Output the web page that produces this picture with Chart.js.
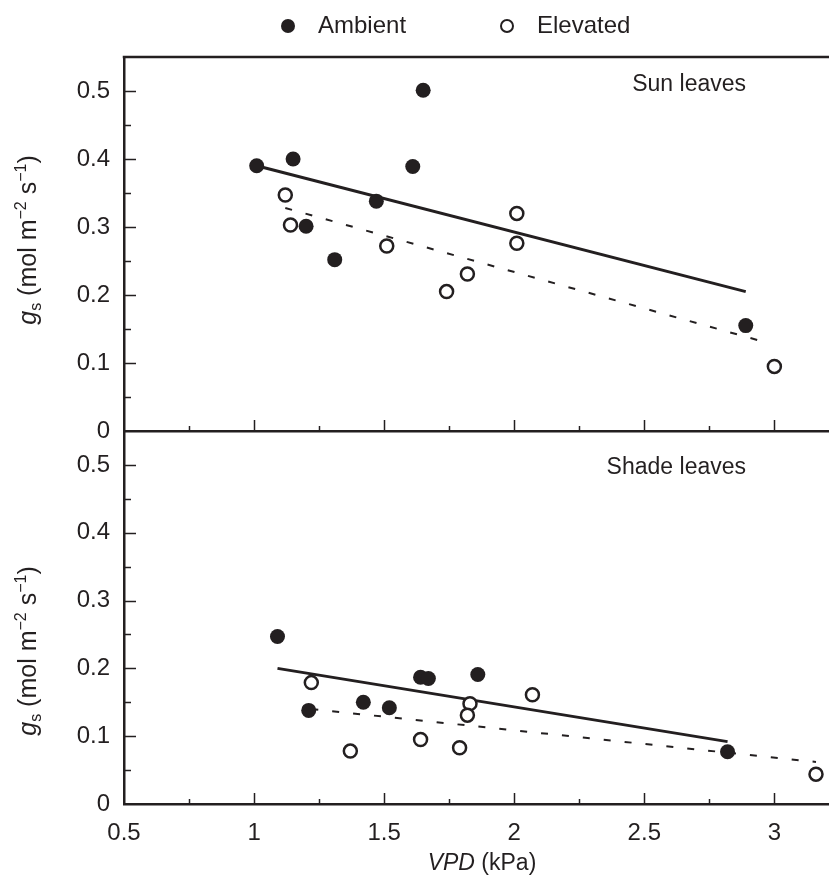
<!DOCTYPE html>
<html><head><meta charset="utf-8">
<script src="https://cdn.jsdelivr.net/npm/chart.js@4.4.0/dist/chart.umd.min.js"></script>
<style>
html,body{margin:0;padding:0;background:#fff;}
#wrap{position:relative;width:829px;height:888px;overflow:hidden;}
canvas{position:absolute;left:0;top:0;}
</style></head><body>
<div id="wrap"><canvas id="c1" width="829" height="888"></canvas><canvas id="c2" width="829" height="888"></canvas></div>
<script>
// ---------- data ----------
const seriesNames = ['Ambient', 'Elevated'];
const panelTitles = ['Sun leaves', 'Shade leaves'];
const xTickValues = [0.5, 1, 1.5, 2, 2.5, 3];
const xTickLabels = ['0.5', '1', '1.5', '2', '2.5', '3'];
const xMinorValues = [0.75, 1.25, 1.75, 2.25, 2.75];
const yTickValues = [0, 0.1, 0.2, 0.3, 0.4, 0.5];
const yTickLabels = ['0', '0.1', '0.2', '0.3', '0.4', '0.5'];
const yMinorValues = [0.05, 0.15, 0.25, 0.35, 0.45];

const sunAmbientVPD = [1.01, 1.15, 1.65, 1.61, 1.47, 1.20, 1.31, 2.89];
const sunAmbientGs  = [0.390, 0.400, 0.501, 0.389, 0.338, 0.301, 0.252, 0.155];
const sunElevatedVPD = [1.12, 1.14, 1.51, 1.82, 1.74, 2.01, 2.01, 3.00];
const sunElevatedGs  = [0.347, 0.303, 0.272, 0.231, 0.205, 0.320, 0.276, 0.095];
const sunAmbientFitVPD = [1.01, 2.89];
const sunAmbientFitGs  = [0.390, 0.205];
const sunElevatedFitVPD = [1.12, 2.97];
const sunElevatedFitGs  = [0.328, 0.130];

const shadeAmbientVPD = [1.09, 1.21, 1.42, 1.52, 1.64, 1.67, 1.86, 2.82];
const shadeAmbientGs  = [0.247, 0.138, 0.150, 0.142, 0.187, 0.185, 0.191, 0.077];
const shadeElevatedVPD = [1.22, 1.37, 1.64, 1.79, 1.83, 1.82, 2.07, 3.16];
const shadeElevatedGs  = [0.179, 0.078, 0.095, 0.083, 0.148, 0.131, 0.161, 0.044];
const shadeAmbientFitVPD = [1.09, 2.82];
const shadeAmbientFitGs  = [0.200, 0.092];
const shadeElevatedFitVPD = [1.22, 3.16];
const shadeElevatedFitGs  = [0.140, 0.062];

// ---------- style ----------
const INK = '#231f20';
const FONT = '"Liberation Sans", Arial, Helvetica, sans-serif';
const pts = (xs, ys) => xs.map((x, i) => ({x: x, y: ys[i]}));

function datasets(aX, aY, eX, eY, afX, afY, efX, efY) {
  return [
    {label: seriesNames[0], data: pts(aX, aY), pointRadius: 7.5, pointBackgroundColor: INK, pointBorderWidth: 0, pointBorderColor: INK, backgroundColor: INK},
    {label: seriesNames[1], data: pts(eX, eY), pointRadius: 6.5, pointBackgroundColor: '#fff', pointBorderWidth: 2.5, pointBorderColor: INK, backgroundColor: '#fff'},
    {label: seriesNames[0] + ' fit', data: pts(afX, afY), showLine: true, borderColor: INK, borderWidth: 3, pointRadius: 0},
    {label: seriesNames[1] + ' fit', data: pts(efX, efY), showLine: true, borderColor: INK, borderWidth: 2, borderDash: [7, 14], pointRadius: 0}
  ];
}

function line(ctx, x1, y1, x2, y2) { ctx.beginPath(); ctx.moveTo(x1, y1); ctx.lineTo(x2, y2); ctx.stroke(); }

function drawRich(ctx, parts, cx, baseY) {
  let total = 0;
  parts.forEach(p => { ctx.font = p.f; total += ctx.measureText(p.t).width; });
  let x = cx - total / 2;
  parts.forEach(p => { ctx.font = p.f; ctx.fillText(p.t, x, baseY + (p.dy || 0)); x += ctx.measureText(p.t).width; });
}

function decor(panel, titleCenterY) {
  return {
    id: 'decor' + panel,
    afterDraw(chart) {
      const {ctx, chartArea: a, scales: {x, y}} = chart;
      ctx.save();
      ctx.strokeStyle = INK; ctx.fillStyle = INK; ctx.lineWidth = 1.5;
      // inward x ticks
      xTickValues.concat(xMinorValues).forEach(v => {
        const px = Math.round(x.getPixelForValue(v)) + 0.5;
        const len = xTickValues.includes(v) ? 11 : 5;
        if (v > x.min) line(ctx, px, a.bottom, px, a.bottom - len);
      });
      // inward y ticks
      yTickValues.concat(yMinorValues).forEach(v => {
        const py = Math.round(y.getPixelForValue(v)) + 0.5;
        const len = yTickValues.includes(v) ? 12 : 7;
        if (v > 0) line(ctx, a.left, py, a.left + len, py);
      });
      if (panel === 0) {
        ctx.lineWidth = 2.5;
        line(ctx, a.left - 1.25, a.top, a.right, a.top);
        // legend
        ctx.font = '24px ' + FONT;
        ctx.textBaseline = 'middle';
        ctx.textAlign = 'left';
        ctx.beginPath(); ctx.arc(288, 26, 7, 0, Math.PI * 2); ctx.fill();
        ctx.fillText(seriesNames[0], 318, 26);
        ctx.lineWidth = 2;
        ctx.beginPath(); ctx.arc(507, 26, 6, 0, Math.PI * 2); ctx.stroke();
        ctx.fillText(seriesNames[1], 537, 26);
      } else {
        // x axis title
        ctx.textBaseline = 'alphabetic';
        ctx.textAlign = 'left';
        drawRich(ctx, [{t: 'VPD', f: 'italic 23px ' + FONT}, {t: ' (kPa)', f: '23px ' + FONT}], 482, 870);
      }
      // panel label
      ctx.textBaseline = 'alphabetic';
      ctx.textAlign = 'right';
      ctx.font = '23px ' + FONT;
      ctx.fillText(panelTitles[panel], 746, panel === 0 ? 91 : 474);
      // y title
      ctx.save();
      ctx.translate(27, titleCenterY);
      ctx.rotate(-Math.PI / 2);
      ctx.textAlign = 'left';
      drawRich(ctx, [
        {t: 'g', f: 'italic 25px ' + FONT},
        {t: 's', f: '16px ' + FONT, dy: 5},
        {t: ' (mol m', f: '25px ' + FONT},
        {t: '\u22122', f: '16px ' + FONT, dy: -10},
        {t: ' s', f: '25px ' + FONT},
        {t: '\u22121', f: '16px ' + FONT, dy: -10},
        {t: ')', f: '25px ' + FONT}
      ], 0, 9);
      ctx.restore();
      ctx.restore();
    }
  };
}

function makeChart(id, panel, ds, padTop, padBottom, xHeight, showXLabels, titleCenterY) {
  return new Chart(document.getElementById(id), {
    type: 'scatter',
    data: {datasets: ds},
    options: {
      responsive: false,
      animation: false,
      events: [],
      layout: {autoPadding: false, padding: {top: padTop, bottom: padBottom, left: 0, right: 0}},
      plugins: {legend: {display: false}, tooltip: {enabled: false}},
      scales: {
        x: {
          type: 'linear', min: 0.5, max: 3.21,
          afterBuildTicks: s => { s.ticks = xTickValues.map(v => ({value: v})); },
          afterFit: s => { s.height = xHeight; s.paddingLeft = 0; s.paddingRight = 0; },
          grid: {display: false, drawTicks: false},
          border: {display: true, color: INK, width: 2.5},
          ticks: {
            display: showXLabels, padding: 15, color: INK, maxRotation: 0, autoSkip: false,
            font: {family: FONT, size: 24},
            callback: v => xTickLabels[xTickValues.indexOf(v)]
          }
        },
        y: {
          type: 'linear', min: 0, max: 0.55,
          afterBuildTicks: s => { s.ticks = yTickValues.map(v => ({value: v})); },
          afterFit: s => { s.width = 124; s.paddingTop = 0; s.paddingBottom = 0; },
          grid: {display: false, drawTicks: false},
          border: {display: true, color: INK, width: 2.5},
          ticks: {
            padding: 14, color: INK, font: {family: FONT, size: 24},
            callback: v => yTickLabels[yTickValues.indexOf(v)]
          }
        }
      }
    },
    plugins: [decor(panel, titleCenterY)]
  });
}

makeChart('c1', 0,
  datasets(sunAmbientVPD, sunAmbientGs, sunElevatedVPD, sunElevatedGs, sunAmbientFitVPD, sunAmbientFitGs, sunElevatedFitVPD, sunElevatedFitGs),
  57, 457, 0, false, 240);
makeChart('c2', 1,
  datasets(shadeAmbientVPD, shadeAmbientGs, shadeElevatedVPD, shadeElevatedGs, shadeAmbientFitVPD, shadeAmbientFitGs, shadeElevatedFitVPD, shadeElevatedFitGs),
  431, 0, 84, true, 651);
</script>
</body></html>
